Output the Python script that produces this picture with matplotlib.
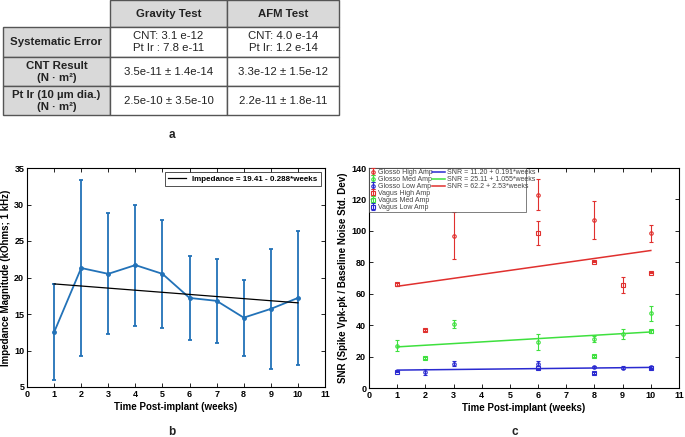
import matplotlib
matplotlib.use("Agg")
import matplotlib.pyplot as plt
import numpy as np

plt.rcParams['font.family'] = ['Liberation Sans', 'DejaVu Sans']

# ---------------- data ----------------
col_labels = ["Gravity Test", "AFM Test"]
row_labels = ["Systematic Error", "CNT Result\n(N · m²)", "Pt Ir (10 µm dia.)\n(N · m²)"]
cell_text = [["CNT: 3.1 e-12\nPt Ir : 7.8 e-11", "CNT: 4.0 e-14\nPt Ir: 1.2 e-14"],
             ["3.5e-11 ± 1.4e-14", "3.3e-12 ± 1.5e-12"],
             ["2.5e-10 ± 3.5e-10", "2.2e-11 ± 1.8e-11"]]

weeks_b = [1, 2, 3, 4, 5, 6, 7, 8, 9, 10]
imp_mean = [12.5, 21.3, 20.5, 21.7, 20.5, 17.2, 16.8, 14.5, 15.7, 17.2]
imp_err = [6.6, 12.0, 8.3, 8.3, 7.4, 5.7, 5.8, 5.2, 8.2, 9.2]
imp_fit = (19.41, -0.288)

glosso_high_x = [3, 6, 8, 10]
glosso_high_y = [97, 123, 107, 98.5]
glosso_high_e = [15, 10, 12, 5.5]
glosso_med_x = [1, 3, 6, 8, 9, 10]
glosso_med_y = [27, 40.5, 29.5, 31, 34.5, 47.5]
glosso_med_e = [3.5, 2.5, 5, 2, 3, 5]
glosso_low_x = [2, 3, 6, 8, 9, 10]
glosso_low_y = [10, 15.5, 15.5, 13.5, 13, 13.5]
glosso_low_e = [2, 1.5, 1.5, 0.5, 1, 0.7]
vagus_high_x = [1, 2, 6, 8, 9, 10]
vagus_high_y = [66, 37, 98.5, 80.5, 65.5, 73.5]
vagus_high_e = [0.8, 0.8, 7.5, 0.5, 5.2, 0.5]
vagus_med_x = [2, 8, 10]
vagus_med_y = [19, 20.5, 36]
vagus_med_e = [0.5, 0.5, 1]
vagus_low_x = [1, 6, 8, 10]
vagus_low_y = [10.5, 12.5, 9.5, 12.5]
vagus_low_e = [0.5, 0.5, 0.5, 0.5]
fit_low = (11.20, 0.191)
fit_med = (25.11, 1.055)
fit_high = (62.2, 2.53)

RED = '#e0302e'
GREEN = '#3ee03e'
BLUE = '#2a2ad0'
LBLUE = '#2272b8'

W, H = 685, 437
fig = plt.figure(figsize=(W / 100, H / 100), dpi=100)

def fx(px):
    return px / W

def fy(py):
    return 1 - py / H

# ---------------- table (a) ----------------
axt = fig.add_axes([fx(3), fy(115), fx(339 - 3), fy(0.5) - fy(115)])
axt.axis('off')
table_rows = [[""] + col_labels] + [[r] + c for r, c in zip(row_labels, cell_text)]
colw = [107, 117, 112]
rowh = [27, 30, 29, 29]
tot_w = sum(colw)
tot_h = sum(rowh)
GRAY = '#d9d9d9'
y0 = tot_h
for i, row in enumerate(table_rows):
    x0 = 0
    for j, txt in enumerate(row):
        w = colw[j]
        h = rowh[i]
        if not (i == 0 and j == 0):
            fc = GRAY if (i == 0 or j == 0) else 'white'
            axt.add_patch(plt.Rectangle((x0 / tot_w, (y0 - h) / tot_h), w / tot_w, h / tot_h,
                                        facecolor=fc, edgecolor='#555555', lw=1.0,
                                        transform=axt.transAxes, clip_on=False))
            bold = (i == 0 or j == 0)
            axt.text((x0 + w / 2) / tot_w, (y0 - h / 2) / tot_h, txt,
                     ha='center', va='center', fontsize=8.2,
                     fontweight='bold' if bold else 'normal',
                     color='#222222', linespacing=1.25,
                     transform=axt.transAxes)
        x0 += w
    y0 -= rowh[i]
axt.set_xlim(0, 1)
axt.set_ylim(0, 1)

fig.text(fx(172), fy(135), "a", ha='center', va='center', fontsize=8.5, fontweight='bold', color='#222222')
fig.text(fx(172), fy(432), "b", ha='center', va='center', fontsize=8.5, fontweight='bold', color='#222222')
fig.text(fx(515), fy(432), "c", ha='center', va='center', fontsize=8.5, fontweight='bold', color='#222222')

def style_axes(ax):
    ax.tick_params(direction='in', top=True, right=True, length=3, width=0.6,
                   labelsize=6.5, pad=2)
    for lab in ax.get_xticklabels() + ax.get_yticklabels():
        lab.set_fontweight('bold')
    for s in ax.spines.values():
        s.set_linewidth(0.8)

# ---------------- plot (b) ----------------
axb = fig.add_axes([fx(27), fy(387), fx(325 - 27), fy(168) - fy(387)])
axb.errorbar(weeks_b, imp_mean, yerr=imp_err, color=LBLUE, lw=1.3, marker='o',
             ms=2.5, capsize=1.5, elinewidth=1.3, capthick=1.3, zorder=2)
fx_b = np.array([weeks_b[0], weeks_b[-1]])
axb.plot(fx_b, imp_fit[0] + imp_fit[1] * fx_b, color='black', lw=0.9, zorder=3,
         label="Impedance = 19.41 - 0.288*weeks")
axb.set_xlim(0, 11)
axb.set_ylim(5, 35)
axb.set_xticks(range(0, 12))
axb.set_yticks(range(5, 36, 5))
axb.set_xlabel("Time Post-implant (weeks)", fontsize=7, fontweight='bold', labelpad=2)
axb.set_ylabel("Impedance Magnitude (kOhms; 1 kHz)", fontsize=7, fontweight='bold', labelpad=2)
style_axes(axb)
leg = axb.legend(loc='upper right', frameon=True, fancybox=False,
                 edgecolor='black', handlelength=2.2, borderpad=0.4,
                 prop={'weight': 'bold', 'size': 5.8})
leg.get_frame().set_linewidth(0.6)

# ---------------- plot (c) ----------------
axc = fig.add_axes([fx(369), fy(388), fx(679 - 369), fy(168) - fy(388)])
series = [
    ("Glosso High Amp", glosso_high_x, glosso_high_y, glosso_high_e, RED, 'o'),
    ("Glosso Med Amp", glosso_med_x, glosso_med_y, glosso_med_e, GREEN, 'o'),
    ("Glosso Low Amp", glosso_low_x, glosso_low_y, glosso_low_e, BLUE, 'o'),
    ("Vagus High Amp", vagus_high_x, vagus_high_y, vagus_high_e, RED, 's'),
    ("Vagus Med Amp", vagus_med_x, vagus_med_y, vagus_med_e, GREEN, 's'),
    ("Vagus Low Amp", vagus_low_x, vagus_low_y, vagus_low_e, BLUE, 's'),
]
h1 = []
for name, x, y, e, c, m in series:
    h = axc.errorbar(x, y, yerr=e, fmt=m, color=c, mfc='none', ms=2.5, mew=0.8,
                     capsize=1.5, elinewidth=0.8, capthick=0.8, label=name)
    h1.append(h)
fxc = np.array([1, 10])
h2 = []
for lab, (a, b), c in [("SNR = 11.20 + 0.191*weeks", fit_low, BLUE),
                       ("SNR = 25.11 + 1.055*weeks", fit_med, GREEN),
                       ("SNR = 62.2 + 2.53*weeks", fit_high, RED)]:
    ln, = axc.plot(fxc, a + b * fxc, color=c, lw=1.1, label=lab)
    h2.append(ln)
axc.set_xlim(0, 11)
axc.set_ylim(0, 140)
axc.set_xticks(range(0, 12))
axc.set_yticks(range(0, 141, 20))
axc.set_xlabel("Time Post-implant (weeks)", fontsize=7, fontweight='bold', labelpad=2)
axc.set_ylabel("SNR (Spike Vpk-pk / Baseline Noise Std. Dev)", fontsize=7, fontweight='bold', labelpad=2)
style_axes(axc)
leg1 = axc.legend(handles=h1, loc='upper left', fontsize=5, frameon=True, fancybox=False,
                  edgecolor='#444444', handlelength=0.8, handletextpad=0.4, borderpad=0.15,
                  labelspacing=0.0, borderaxespad=0.0, bbox_to_anchor=(0, 1, 0.508, 0),
                  mode='expand', labelcolor='#444444')
leg1.get_frame().set_linewidth(0.6)
axc.add_artist(leg1)
leg2 = axc.legend(handles=h2, loc='upper left', fontsize=5, frameon=False,
                  handlelength=1.8, handletextpad=0.4, borderpad=0.15, labelspacing=0.0,
                  borderaxespad=0.0, bbox_to_anchor=(0.2, 1.0), labelcolor='#444444')

fig.savefig("out.png", dpi=100)
